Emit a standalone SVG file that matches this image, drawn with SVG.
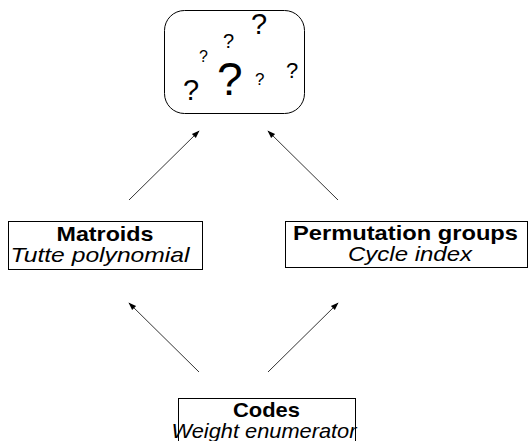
<svg xmlns="http://www.w3.org/2000/svg" width="530" height="441" viewBox="0 0 530 441">
<defs>
<style>
.box{fill:#fff;stroke:#000;stroke-width:1}
.t{font-family:"Liberation Sans",Arial,sans-serif;fill:#000;text-anchor:middle}
.b{font-weight:bold;font-size:21px}
.i{font-style:italic;font-size:21px}
.q{font-family:"Liberation Sans",Arial,sans-serif;fill:#000}
.c{stroke:#000;stroke-width:0.8;fill:none;marker-end:url(#ah)}
</style>
<marker id="ah" viewBox="0 0 10 10" refX="9" refY="5" markerWidth="8" markerHeight="8" markerUnits="userSpaceOnUse" orient="auto">
<path d="M0,1.5 L10,5 L0,8.5 Z" fill="#000"/>
</marker>
</defs>
<g id="unknown">
<rect class="box" x="164.5" y="10.5" width="140" height="103" rx="20" ry="20"/>
<text class="q" x="183" y="100" font-size="29">?</text>
<text class="q" x="199" y="62" font-size="16">?</text>
<text class="q" x="223" y="48" font-size="20">?</text>
<text class="q" x="217" y="95" font-size="46">?</text>
<text class="q" x="251" y="34" font-size="29">?</text>
<text class="q" x="255" y="85" font-size="17">?</text>
<text class="q" x="286" y="78" font-size="22">?</text>
</g>
<g id="matroids">
<rect class="box" x="8.5" y="221.5" width="194" height="48"/>
<text class="t b" x="105" y="241" textLength="97" lengthAdjust="spacingAndGlyphs">Matroids</text>
<text class="t i" x="100" y="262" textLength="179" lengthAdjust="spacingAndGlyphs">Tutte polynomial</text>
</g>
<g id="permutation">
<rect class="box" x="285.5" y="221.5" width="242" height="46"/>
<text class="t b" x="405.5" y="240" textLength="225" lengthAdjust="spacingAndGlyphs">Permutation groups</text>
<text class="t i" x="410" y="261" textLength="124" lengthAdjust="spacingAndGlyphs">Cycle index</text>
</g>
<g id="codes">
<rect class="box" x="178.5" y="398.5" width="177" height="50"/>
<text class="t b" x="266.5" y="417" textLength="67" lengthAdjust="spacingAndGlyphs">Codes</text>
<text class="t i" x="264" y="438" textLength="185" lengthAdjust="spacingAndGlyphs">Weight enumerator</text>
</g>
<g id="connectors">
<line class="c" x1="129" y1="200" x2="199" y2="131"/>
<line class="c" x1="338" y1="200" x2="268" y2="131"/>
<line class="c" x1="199" y1="372" x2="129" y2="303"/>
<line class="c" x1="268" y1="372" x2="338" y2="303"/>
</g>
</svg>
